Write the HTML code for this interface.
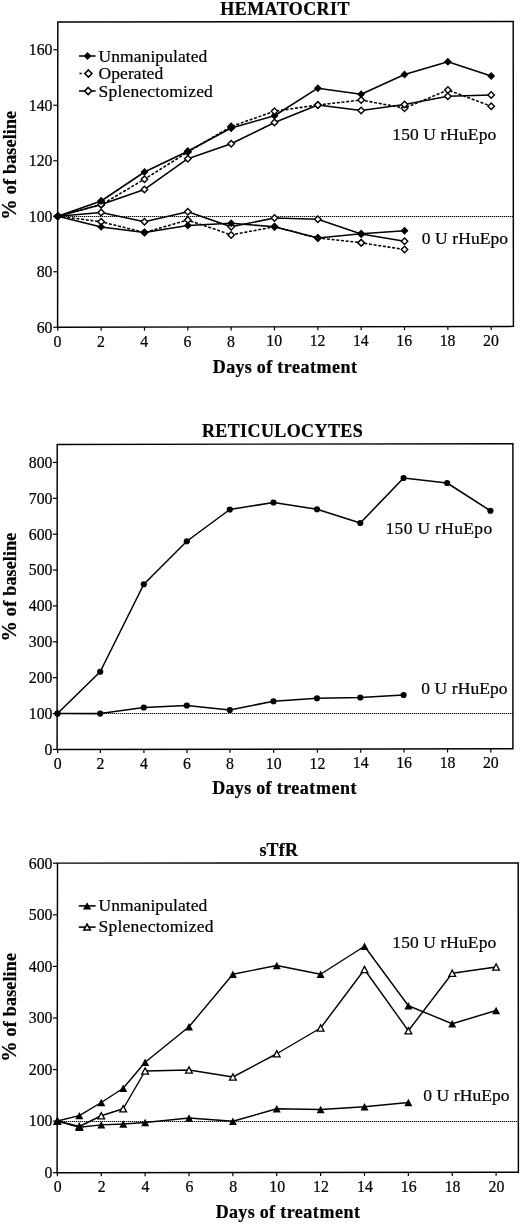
<!DOCTYPE html>
<html lang="en"><head><meta charset="utf-8"><title>Figure</title>
<style>
html,body{margin:0;padding:0;background:#fff;}
body{width:520px;height:1224px;overflow:hidden;}
svg{display:block;}
svg text{font-family:"Liberation Serif", "DejaVu Serif", serif;fill:#000;stroke:#000;stroke-width:0.22px;}
</style></head><body>
<svg width="520" height="1224" viewBox="0 0 520 1224">
<rect width="520" height="1224" fill="#fff"/>
<g id="c1">
<text x="285.1" y="14.6" text-anchor="middle" font-size="18" font-weight="bold" letter-spacing="0.43">HEMATOCRIT</text>
<line x1="58" y1="216.5" x2="513.3" y2="216.5" stroke="#000" stroke-width="1" stroke-dasharray="1.3 0.7"/>
<polyline points="57.8,216.2 101.14,221.75 144.48,232.5 187.82,220 231.16,234.9 274.5,226.75 317.84,238 361.18,242.7 404.52,249.6" fill="none" stroke="#000" stroke-width="1.55" stroke-linejoin="round" stroke-dasharray="3.0 1.7"/>
<path d="M57.8 212.95 l3.25 3.25 l-3.25 3.25 l-3.25 -3.25 z" fill="#fff" stroke="#000" stroke-width="1.4"/>
<path d="M101.14 218.5 l3.25 3.25 l-3.25 3.25 l-3.25 -3.25 z" fill="#fff" stroke="#000" stroke-width="1.4"/>
<path d="M144.48 229.25 l3.25 3.25 l-3.25 3.25 l-3.25 -3.25 z" fill="#fff" stroke="#000" stroke-width="1.4"/>
<path d="M187.82 216.75 l3.25 3.25 l-3.25 3.25 l-3.25 -3.25 z" fill="#fff" stroke="#000" stroke-width="1.4"/>
<path d="M231.16 231.65 l3.25 3.25 l-3.25 3.25 l-3.25 -3.25 z" fill="#fff" stroke="#000" stroke-width="1.4"/>
<path d="M274.5 223.5 l3.25 3.25 l-3.25 3.25 l-3.25 -3.25 z" fill="#fff" stroke="#000" stroke-width="1.4"/>
<path d="M317.84 234.75 l3.25 3.25 l-3.25 3.25 l-3.25 -3.25 z" fill="#fff" stroke="#000" stroke-width="1.4"/>
<path d="M361.18 239.45 l3.25 3.25 l-3.25 3.25 l-3.25 -3.25 z" fill="#fff" stroke="#000" stroke-width="1.4"/>
<path d="M404.52 246.35 l3.25 3.25 l-3.25 3.25 l-3.25 -3.25 z" fill="#fff" stroke="#000" stroke-width="1.4"/>
<polyline points="57.8,216.2 101.14,212.5 144.48,221.75 187.82,211.75 231.16,226.7 274.5,218 317.84,219.25 361.18,234 404.52,241.3" fill="none" stroke="#000" stroke-width="1.55" stroke-linejoin="round"/>
<path d="M57.8 212.95 l3.25 3.25 l-3.25 3.25 l-3.25 -3.25 z" fill="#fff" stroke="#000" stroke-width="1.4"/>
<path d="M101.14 209.25 l3.25 3.25 l-3.25 3.25 l-3.25 -3.25 z" fill="#fff" stroke="#000" stroke-width="1.4"/>
<path d="M144.48 218.5 l3.25 3.25 l-3.25 3.25 l-3.25 -3.25 z" fill="#fff" stroke="#000" stroke-width="1.4"/>
<path d="M187.82 208.5 l3.25 3.25 l-3.25 3.25 l-3.25 -3.25 z" fill="#fff" stroke="#000" stroke-width="1.4"/>
<path d="M231.16 223.45 l3.25 3.25 l-3.25 3.25 l-3.25 -3.25 z" fill="#fff" stroke="#000" stroke-width="1.4"/>
<path d="M274.5 214.75 l3.25 3.25 l-3.25 3.25 l-3.25 -3.25 z" fill="#fff" stroke="#000" stroke-width="1.4"/>
<path d="M317.84 216 l3.25 3.25 l-3.25 3.25 l-3.25 -3.25 z" fill="#fff" stroke="#000" stroke-width="1.4"/>
<path d="M361.18 230.75 l3.25 3.25 l-3.25 3.25 l-3.25 -3.25 z" fill="#fff" stroke="#000" stroke-width="1.4"/>
<path d="M404.52 238.05 l3.25 3.25 l-3.25 3.25 l-3.25 -3.25 z" fill="#fff" stroke="#000" stroke-width="1.4"/>
<polyline points="57.8,216.2 101.14,201 144.48,172 187.82,151.2 231.16,128 274.5,115.75 317.84,88.2 361.18,94.25 404.52,74.5 447.86,61.75 491.2,76" fill="none" stroke="#000" stroke-width="1.55" stroke-linejoin="round"/>
<path d="M57.8 212.25 l3.95 3.95 l-3.95 3.95 l-3.95 -3.95 z" fill="#000"/>
<path d="M101.14 197.05 l3.95 3.95 l-3.95 3.95 l-3.95 -3.95 z" fill="#000"/>
<path d="M144.48 168.05 l3.95 3.95 l-3.95 3.95 l-3.95 -3.95 z" fill="#000"/>
<path d="M187.82 147.25 l3.95 3.95 l-3.95 3.95 l-3.95 -3.95 z" fill="#000"/>
<path d="M231.16 124.05 l3.95 3.95 l-3.95 3.95 l-3.95 -3.95 z" fill="#000"/>
<path d="M274.5 111.8 l3.95 3.95 l-3.95 3.95 l-3.95 -3.95 z" fill="#000"/>
<path d="M317.84 84.25 l3.95 3.95 l-3.95 3.95 l-3.95 -3.95 z" fill="#000"/>
<path d="M361.18 90.3 l3.95 3.95 l-3.95 3.95 l-3.95 -3.95 z" fill="#000"/>
<path d="M404.52 70.55 l3.95 3.95 l-3.95 3.95 l-3.95 -3.95 z" fill="#000"/>
<path d="M447.86 57.8 l3.95 3.95 l-3.95 3.95 l-3.95 -3.95 z" fill="#000"/>
<path d="M491.2 72.05 l3.95 3.95 l-3.95 3.95 l-3.95 -3.95 z" fill="#000"/>
<polyline points="57.8,216.2 101.14,226.9 144.48,232.5 187.82,225.5 231.16,223.3 274.5,226.75 317.84,238 361.18,233.75 404.52,230.8" fill="none" stroke="#000" stroke-width="1.55" stroke-linejoin="round"/>
<path d="M57.8 212.25 l3.95 3.95 l-3.95 3.95 l-3.95 -3.95 z" fill="#000"/>
<path d="M101.14 222.95 l3.95 3.95 l-3.95 3.95 l-3.95 -3.95 z" fill="#000"/>
<path d="M144.48 228.55 l3.95 3.95 l-3.95 3.95 l-3.95 -3.95 z" fill="#000"/>
<path d="M187.82 221.55 l3.95 3.95 l-3.95 3.95 l-3.95 -3.95 z" fill="#000"/>
<path d="M231.16 219.35 l3.95 3.95 l-3.95 3.95 l-3.95 -3.95 z" fill="#000"/>
<path d="M274.5 222.8 l3.95 3.95 l-3.95 3.95 l-3.95 -3.95 z" fill="#000"/>
<path d="M317.84 234.05 l3.95 3.95 l-3.95 3.95 l-3.95 -3.95 z" fill="#000"/>
<path d="M361.18 229.8 l3.95 3.95 l-3.95 3.95 l-3.95 -3.95 z" fill="#000"/>
<path d="M404.52 226.85 l3.95 3.95 l-3.95 3.95 l-3.95 -3.95 z" fill="#000"/>
<polyline points="57.8,216.2 101.14,204.8 144.48,179.2 187.82,152 231.16,126.5 274.5,111.25 317.84,105 361.18,100 404.52,108.2 447.86,90 491.2,106.25" fill="none" stroke="#000" stroke-width="1.55" stroke-linejoin="round" stroke-dasharray="3.0 1.7"/>
<path d="M57.8 212.95 l3.25 3.25 l-3.25 3.25 l-3.25 -3.25 z" fill="#fff" stroke="#000" stroke-width="1.4"/>
<path d="M101.14 201.55 l3.25 3.25 l-3.25 3.25 l-3.25 -3.25 z" fill="#fff" stroke="#000" stroke-width="1.4"/>
<path d="M144.48 175.95 l3.25 3.25 l-3.25 3.25 l-3.25 -3.25 z" fill="#fff" stroke="#000" stroke-width="1.4"/>
<path d="M187.82 148.75 l3.25 3.25 l-3.25 3.25 l-3.25 -3.25 z" fill="#fff" stroke="#000" stroke-width="1.4"/>
<path d="M231.16 123.25 l3.25 3.25 l-3.25 3.25 l-3.25 -3.25 z" fill="#fff" stroke="#000" stroke-width="1.4"/>
<path d="M274.5 108 l3.25 3.25 l-3.25 3.25 l-3.25 -3.25 z" fill="#fff" stroke="#000" stroke-width="1.4"/>
<path d="M317.84 101.75 l3.25 3.25 l-3.25 3.25 l-3.25 -3.25 z" fill="#fff" stroke="#000" stroke-width="1.4"/>
<path d="M361.18 96.75 l3.25 3.25 l-3.25 3.25 l-3.25 -3.25 z" fill="#fff" stroke="#000" stroke-width="1.4"/>
<path d="M404.52 104.95 l3.25 3.25 l-3.25 3.25 l-3.25 -3.25 z" fill="#fff" stroke="#000" stroke-width="1.4"/>
<path d="M447.86 86.75 l3.25 3.25 l-3.25 3.25 l-3.25 -3.25 z" fill="#fff" stroke="#000" stroke-width="1.4"/>
<path d="M491.2 103 l3.25 3.25 l-3.25 3.25 l-3.25 -3.25 z" fill="#fff" stroke="#000" stroke-width="1.4"/>
<polyline points="57.8,216.2 101.14,204.6 144.48,189.4 187.82,158.7 231.16,143.8 274.5,122.5 317.84,105 361.18,110.5 404.52,104.4 447.86,96.25 491.2,95" fill="none" stroke="#000" stroke-width="1.55" stroke-linejoin="round"/>
<path d="M57.8 212.95 l3.25 3.25 l-3.25 3.25 l-3.25 -3.25 z" fill="#fff" stroke="#000" stroke-width="1.4"/>
<path d="M101.14 201.35 l3.25 3.25 l-3.25 3.25 l-3.25 -3.25 z" fill="#fff" stroke="#000" stroke-width="1.4"/>
<path d="M144.48 186.15 l3.25 3.25 l-3.25 3.25 l-3.25 -3.25 z" fill="#fff" stroke="#000" stroke-width="1.4"/>
<path d="M187.82 155.45 l3.25 3.25 l-3.25 3.25 l-3.25 -3.25 z" fill="#fff" stroke="#000" stroke-width="1.4"/>
<path d="M231.16 140.55 l3.25 3.25 l-3.25 3.25 l-3.25 -3.25 z" fill="#fff" stroke="#000" stroke-width="1.4"/>
<path d="M274.5 119.25 l3.25 3.25 l-3.25 3.25 l-3.25 -3.25 z" fill="#fff" stroke="#000" stroke-width="1.4"/>
<path d="M317.84 101.75 l3.25 3.25 l-3.25 3.25 l-3.25 -3.25 z" fill="#fff" stroke="#000" stroke-width="1.4"/>
<path d="M361.18 107.25 l3.25 3.25 l-3.25 3.25 l-3.25 -3.25 z" fill="#fff" stroke="#000" stroke-width="1.4"/>
<path d="M404.52 101.15 l3.25 3.25 l-3.25 3.25 l-3.25 -3.25 z" fill="#fff" stroke="#000" stroke-width="1.4"/>
<path d="M447.86 93 l3.25 3.25 l-3.25 3.25 l-3.25 -3.25 z" fill="#fff" stroke="#000" stroke-width="1.4"/>
<path d="M491.2 91.75 l3.25 3.25 l-3.25 3.25 l-3.25 -3.25 z" fill="#fff" stroke="#000" stroke-width="1.4"/>
<path d="M361.18 239.45 l3.25 3.25 l-3.25 3.25 l-3.25 -3.25 z" fill="#fff" stroke="#000" stroke-width="1.4"/>
<path d="M57.8 212.25 l3.95 3.95 l-3.95 3.95 l-3.95 -3.95 z" fill="#000"/>
<path d="M101.14 197.05 l3.95 3.95 l-3.95 3.95 l-3.95 -3.95 z" fill="#000"/>
<path d="M187.82 147.25 l3.95 3.95 l-3.95 3.95 l-3.95 -3.95 z" fill="#000"/>
<path d="M231.16 124.05 l3.95 3.95 l-3.95 3.95 l-3.95 -3.95 z" fill="#000"/>
<polygon points="57.8,21.9 513.2,21.5 513.4,326.4 57.6,327.25" fill="none" stroke="#000" stroke-width="1.45" stroke-linejoin="miter"/>
<line x1="53.3" y1="327.25" x2="57.7" y2="327.25" stroke="#000" stroke-width="1.2"/>
<text x="52.5" y="332.6" text-anchor="end" font-size="15.8">60</text>
<line x1="53.3" y1="271.75" x2="57.7" y2="271.75" stroke="#000" stroke-width="1.2"/>
<text x="52.5" y="277.1" text-anchor="end" font-size="15.8">80</text>
<line x1="53.3" y1="216.25" x2="57.7" y2="216.25" stroke="#000" stroke-width="1.2"/>
<text x="52.5" y="221.6" text-anchor="end" font-size="15.8">100</text>
<line x1="53.3" y1="160.75" x2="57.7" y2="160.75" stroke="#000" stroke-width="1.2"/>
<text x="52.5" y="166.1" text-anchor="end" font-size="15.8">120</text>
<line x1="53.3" y1="105.25" x2="57.7" y2="105.25" stroke="#000" stroke-width="1.2"/>
<text x="52.5" y="110.6" text-anchor="end" font-size="15.8">140</text>
<line x1="53.3" y1="49.75" x2="57.7" y2="49.75" stroke="#000" stroke-width="1.2"/>
<text x="52.5" y="55.1" text-anchor="end" font-size="15.8">160</text>
<line x1="57.8" y1="327.25" x2="57.8" y2="330.85" stroke="#000" stroke-width="1.2"/>
<text x="57.5" y="346.85" text-anchor="middle" font-size="15.8">0</text>
<line x1="101.14" y1="327.17" x2="101.14" y2="330.77" stroke="#000" stroke-width="1.2"/>
<text x="100.84" y="346.77" text-anchor="middle" font-size="15.8">2</text>
<line x1="144.48" y1="327.09" x2="144.48" y2="330.69" stroke="#000" stroke-width="1.2"/>
<text x="144.18" y="346.69" text-anchor="middle" font-size="15.8">4</text>
<line x1="187.82" y1="327.01" x2="187.82" y2="330.61" stroke="#000" stroke-width="1.2"/>
<text x="187.52" y="346.61" text-anchor="middle" font-size="15.8">6</text>
<line x1="231.16" y1="326.93" x2="231.16" y2="330.53" stroke="#000" stroke-width="1.2"/>
<text x="230.86" y="346.53" text-anchor="middle" font-size="15.8">8</text>
<line x1="274.5" y1="326.85" x2="274.5" y2="330.45" stroke="#000" stroke-width="1.2"/>
<text x="274.2" y="346.45" text-anchor="middle" font-size="15.8">10</text>
<line x1="317.84" y1="326.76" x2="317.84" y2="330.36" stroke="#000" stroke-width="1.2"/>
<text x="317.54" y="346.36" text-anchor="middle" font-size="15.8">12</text>
<line x1="361.18" y1="326.68" x2="361.18" y2="330.28" stroke="#000" stroke-width="1.2"/>
<text x="360.88" y="346.28" text-anchor="middle" font-size="15.8">14</text>
<line x1="404.52" y1="326.6" x2="404.52" y2="330.2" stroke="#000" stroke-width="1.2"/>
<text x="404.22" y="346.2" text-anchor="middle" font-size="15.8">16</text>
<line x1="447.86" y1="326.52" x2="447.86" y2="330.12" stroke="#000" stroke-width="1.2"/>
<text x="447.56" y="346.12" text-anchor="middle" font-size="15.8">18</text>
<line x1="491.2" y1="326.44" x2="491.2" y2="330.04" stroke="#000" stroke-width="1.2"/>
<text x="490.9" y="346.04" text-anchor="middle" font-size="15.8">20</text>
<text transform="translate(16.2 165.2) rotate(-90)" text-anchor="middle" font-size="18" font-weight="bold" letter-spacing="0.4"><tspan font-size="20.5">%</tspan><tspan dx="4.4">of</tspan><tspan dx="4.6" letter-spacing="0.15">baseline</tspan></text>
<text x="285.2" y="373" text-anchor="middle" font-size="18" font-weight="bold" letter-spacing="0.3">Days of <tspan letter-spacing="0.52">treatment</tspan></text>
<text transform="translate(392.3 140) scale(1 1)" font-size="17.5" letter-spacing="0.08">150 U rHuEpo</text>
<text transform="translate(421.8 243.75) scale(1 1)" font-size="17.5" letter-spacing="0.08">0 U rHuEpo</text>
<line x1="79" y1="56" x2="95.6" y2="56" stroke="#000" stroke-width="1.55"/>
<path d="M87.5 52.1 l3.9 3.9 l-3.9 3.9 l-3.9 -3.9 z" fill="#000"/>
<text transform="translate(98.5 61.7) scale(1 1)" font-size="17.5" letter-spacing="0.08">Unmanipulated</text>
<line x1="79.5" y1="73.5" x2="81.7" y2="73.5" stroke="#000" stroke-width="1.6500000000000001"/>
<path d="M88.4 69.95 l3.55 3.55 l-3.55 3.55 l-3.55 -3.55 z" fill="#fff" stroke="#000" stroke-width="1.55"/>
<text transform="translate(98.5 79.2) scale(1 1)" font-size="17.5" letter-spacing="0.08">Operated</text>
<line x1="79" y1="91" x2="95.6" y2="91" stroke="#000" stroke-width="1.55"/>
<path d="M88.2 87.45 l3.55 3.55 l-3.55 3.55 l-3.55 -3.55 z" fill="#fff" stroke="#000" stroke-width="1.55"/>
<text transform="translate(98.5 96.7) scale(1 1)" font-size="17.5" letter-spacing="0.2">Splenectomized</text>
</g>
<g id="c2">
<text x="282.5" y="437.4" text-anchor="middle" font-size="18" font-weight="bold" letter-spacing="0.4">RETICULOCYTES</text>
<line x1="58" y1="713.5" x2="512.9" y2="713.5" stroke="#000" stroke-width="1" stroke-dasharray="1.3 0.7"/>
<polyline points="57.5,713.5 100.2,671.75 143.8,584.25 186.8,541.25 229.8,509.5 273.5,502.5 317,509.25 360.3,523 403.6,478 447.1,483 490.4,510.75" fill="none" stroke="#000" stroke-width="1.55" stroke-linejoin="round"/>
<polyline points="57.5,713.5 100.2,713.6 143.8,707.5 186.8,705.5 229.8,710 273.5,701.25 317,698.25 360.3,697.5 403.6,695" fill="none" stroke="#000" stroke-width="1.55" stroke-linejoin="round"/>
<circle cx="57.5" cy="713.5" r="3.1" fill="#000"/>
<circle cx="100.2" cy="671.75" r="3.1" fill="#000"/>
<circle cx="143.8" cy="584.25" r="3.1" fill="#000"/>
<circle cx="186.8" cy="541.25" r="3.1" fill="#000"/>
<circle cx="229.8" cy="509.5" r="3.1" fill="#000"/>
<circle cx="273.5" cy="502.5" r="3.1" fill="#000"/>
<circle cx="317" cy="509.25" r="3.1" fill="#000"/>
<circle cx="360.3" cy="523" r="3.1" fill="#000"/>
<circle cx="403.6" cy="478" r="3.1" fill="#000"/>
<circle cx="447.1" cy="483" r="3.1" fill="#000"/>
<circle cx="490.4" cy="510.75" r="3.1" fill="#000"/>
<circle cx="57.5" cy="713.5" r="3.1" fill="#000"/>
<circle cx="100.2" cy="713.6" r="3.1" fill="#000"/>
<circle cx="143.8" cy="707.5" r="3.1" fill="#000"/>
<circle cx="186.8" cy="705.5" r="3.1" fill="#000"/>
<circle cx="229.8" cy="710" r="3.1" fill="#000"/>
<circle cx="273.5" cy="701.25" r="3.1" fill="#000"/>
<circle cx="317" cy="698.25" r="3.1" fill="#000"/>
<circle cx="360.3" cy="697.5" r="3.1" fill="#000"/>
<circle cx="403.6" cy="695" r="3.1" fill="#000"/>
<polygon points="57.2,444.4 512.9,443.8 512.9,748.8 57.1,749.5" fill="none" stroke="#000" stroke-width="1.45" stroke-linejoin="miter"/>
<line x1="52.8" y1="749.4" x2="57.2" y2="749.4" stroke="#000" stroke-width="1.2"/>
<text x="52.5" y="754.75" text-anchor="end" font-size="15.8">0</text>
<line x1="52.8" y1="713.53" x2="57.2" y2="713.53" stroke="#000" stroke-width="1.2"/>
<text x="52.5" y="718.88" text-anchor="end" font-size="15.8">100</text>
<line x1="52.8" y1="677.66" x2="57.2" y2="677.66" stroke="#000" stroke-width="1.2"/>
<text x="52.5" y="683.01" text-anchor="end" font-size="15.8">200</text>
<line x1="52.8" y1="641.79" x2="57.2" y2="641.79" stroke="#000" stroke-width="1.2"/>
<text x="52.5" y="647.14" text-anchor="end" font-size="15.8">300</text>
<line x1="52.8" y1="605.92" x2="57.2" y2="605.92" stroke="#000" stroke-width="1.2"/>
<text x="52.5" y="611.27" text-anchor="end" font-size="15.8">400</text>
<line x1="52.8" y1="570.05" x2="57.2" y2="570.05" stroke="#000" stroke-width="1.2"/>
<text x="52.5" y="575.4" text-anchor="end" font-size="15.8">500</text>
<line x1="52.8" y1="534.18" x2="57.2" y2="534.18" stroke="#000" stroke-width="1.2"/>
<text x="52.5" y="539.53" text-anchor="end" font-size="15.8">600</text>
<line x1="52.8" y1="498.31" x2="57.2" y2="498.31" stroke="#000" stroke-width="1.2"/>
<text x="52.5" y="503.66" text-anchor="end" font-size="15.8">700</text>
<line x1="52.8" y1="462.44" x2="57.2" y2="462.44" stroke="#000" stroke-width="1.2"/>
<text x="52.5" y="467.79" text-anchor="end" font-size="15.8">800</text>
<line x1="57.65" y1="749.5" x2="57.65" y2="753.1" stroke="#000" stroke-width="1.2"/>
<text x="57.65" y="768.9" text-anchor="middle" font-size="15.8">0</text>
<line x1="100.35" y1="749.43" x2="100.35" y2="753.03" stroke="#000" stroke-width="1.2"/>
<text x="100.35" y="768.83" text-anchor="middle" font-size="15.8">2</text>
<line x1="143.95" y1="749.37" x2="143.95" y2="752.97" stroke="#000" stroke-width="1.2"/>
<text x="143.95" y="768.77" text-anchor="middle" font-size="15.8">4</text>
<line x1="186.95" y1="749.3" x2="186.95" y2="752.9" stroke="#000" stroke-width="1.2"/>
<text x="186.95" y="768.7" text-anchor="middle" font-size="15.8">6</text>
<line x1="229.95" y1="749.23" x2="229.95" y2="752.83" stroke="#000" stroke-width="1.2"/>
<text x="229.95" y="768.63" text-anchor="middle" font-size="15.8">8</text>
<line x1="273.65" y1="749.17" x2="273.65" y2="752.77" stroke="#000" stroke-width="1.2"/>
<text x="273.65" y="768.57" text-anchor="middle" font-size="15.8">10</text>
<line x1="317.45" y1="749.1" x2="317.45" y2="752.7" stroke="#000" stroke-width="1.2"/>
<text x="317.45" y="768.5" text-anchor="middle" font-size="15.8">12</text>
<line x1="360.75" y1="749.03" x2="360.75" y2="752.63" stroke="#000" stroke-width="1.2"/>
<text x="360.75" y="768.43" text-anchor="middle" font-size="15.8">14</text>
<line x1="404.05" y1="748.97" x2="404.05" y2="752.57" stroke="#000" stroke-width="1.2"/>
<text x="404.05" y="768.37" text-anchor="middle" font-size="15.8">16</text>
<line x1="447.55" y1="748.9" x2="447.55" y2="752.5" stroke="#000" stroke-width="1.2"/>
<text x="447.55" y="768.3" text-anchor="middle" font-size="15.8">18</text>
<line x1="490.85" y1="748.83" x2="490.85" y2="752.43" stroke="#000" stroke-width="1.2"/>
<text x="490.85" y="768.23" text-anchor="middle" font-size="15.8">20</text>
<text transform="translate(15.8 587) rotate(-90)" text-anchor="middle" font-size="18" font-weight="bold" letter-spacing="0.4"><tspan font-size="20.5">%</tspan><tspan dx="4.4">of</tspan><tspan dx="4.6" letter-spacing="0.15">baseline</tspan></text>
<text x="284.6" y="793.9" text-anchor="middle" font-size="18" font-weight="bold" letter-spacing="0.3">Days of <tspan letter-spacing="0.52">treatment</tspan></text>
<text transform="translate(385.5 533.75) scale(1 1)" font-size="17.5" letter-spacing="0.33">150 U rHuEpo</text>
<text transform="translate(421.3 693.75) scale(1 1)" font-size="17.5" letter-spacing="0.08">0 U rHuEpo</text>
</g>
<g id="c3">
<text x="278.8" y="855.5" text-anchor="middle" font-size="18" font-weight="bold" letter-spacing="0.2">sTfR</text>
<line x1="58" y1="1121.5" x2="518.3" y2="1121.5" stroke="#000" stroke-width="1" stroke-dasharray="1.3 0.7"/>
<polyline points="57.4,1121 79.33,1126.5 101.27,1115.75 123.2,1108.75 145.14,1071 189.01,1070 232.88,1077 276.75,1053.75 320.62,1028 364.49,969.5 408.36,1030.75 452.23,973.25 496.1,967" fill="none" stroke="#000" stroke-width="1.42" stroke-linejoin="round"/>
<polyline points="57.4,1121 79.33,1115.6 101.27,1102.5 123.2,1088.25 145.14,1062.3 189.01,1026.75 232.88,974.25 276.75,965.5 320.62,974.25 364.49,946.25 408.36,1005.75 452.23,1023.75 496.1,1010.5" fill="none" stroke="#000" stroke-width="1.42" stroke-linejoin="round"/>
<polyline points="57.4,1121 79.33,1127.3 101.27,1124.9 123.2,1124 145.14,1122.5 189.01,1118 232.88,1121.25 276.75,1108.75 320.62,1109.5 364.49,1106.75 408.36,1102.5" fill="none" stroke="#000" stroke-width="1.42" stroke-linejoin="round"/>
<path d="M57.4 1117.9 L60.75 1124.1 L54.05 1124.1 z" fill="#fff" stroke="#000" stroke-width="1.3"/>
<path d="M79.33 1123.4 L82.68 1129.6 L75.98 1129.6 z" fill="#fff" stroke="#000" stroke-width="1.3"/>
<path d="M101.27 1112.65 L104.62 1118.85 L97.92 1118.85 z" fill="#fff" stroke="#000" stroke-width="1.3"/>
<path d="M123.2 1105.65 L126.55 1111.85 L119.85 1111.85 z" fill="#fff" stroke="#000" stroke-width="1.3"/>
<path d="M145.14 1067.9 L148.49 1074.1 L141.79 1074.1 z" fill="#fff" stroke="#000" stroke-width="1.3"/>
<path d="M189.01 1066.9 L192.36 1073.1 L185.66 1073.1 z" fill="#fff" stroke="#000" stroke-width="1.3"/>
<path d="M232.88 1073.9 L236.23 1080.1 L229.53 1080.1 z" fill="#fff" stroke="#000" stroke-width="1.3"/>
<path d="M276.75 1050.65 L280.1 1056.85 L273.4 1056.85 z" fill="#fff" stroke="#000" stroke-width="1.3"/>
<path d="M320.62 1024.9 L323.97 1031.1 L317.27 1031.1 z" fill="#fff" stroke="#000" stroke-width="1.3"/>
<path d="M364.49 966.4 L367.84 972.6 L361.14 972.6 z" fill="#fff" stroke="#000" stroke-width="1.3"/>
<path d="M408.36 1027.65 L411.71 1033.85 L405.01 1033.85 z" fill="#fff" stroke="#000" stroke-width="1.3"/>
<path d="M452.23 970.15 L455.58 976.35 L448.88 976.35 z" fill="#fff" stroke="#000" stroke-width="1.3"/>
<path d="M496.1 963.9 L499.45 970.1 L492.75 970.1 z" fill="#fff" stroke="#000" stroke-width="1.3"/>
<path d="M57.4 1117.3 L61.4 1124.7 L53.4 1124.7 z" fill="#000"/>
<path d="M79.33 1111.9 L83.33 1119.3 L75.33 1119.3 z" fill="#000"/>
<path d="M101.27 1098.8 L105.27 1106.2 L97.27 1106.2 z" fill="#000"/>
<path d="M123.2 1084.55 L127.2 1091.95 L119.2 1091.95 z" fill="#000"/>
<path d="M145.14 1058.6 L149.14 1066 L141.14 1066 z" fill="#000"/>
<path d="M189.01 1023.05 L193.01 1030.45 L185.01 1030.45 z" fill="#000"/>
<path d="M232.88 970.55 L236.88 977.95 L228.88 977.95 z" fill="#000"/>
<path d="M276.75 961.8 L280.75 969.2 L272.75 969.2 z" fill="#000"/>
<path d="M320.62 970.55 L324.62 977.95 L316.62 977.95 z" fill="#000"/>
<path d="M364.49 942.55 L368.49 949.95 L360.49 949.95 z" fill="#000"/>
<path d="M408.36 1002.05 L412.36 1009.45 L404.36 1009.45 z" fill="#000"/>
<path d="M452.23 1020.05 L456.23 1027.45 L448.23 1027.45 z" fill="#000"/>
<path d="M496.1 1006.8 L500.1 1014.2 L492.1 1014.2 z" fill="#000"/>
<path d="M57.4 1117.3 L61.4 1124.7 L53.4 1124.7 z" fill="#000"/>
<path d="M79.33 1123.6 L83.33 1131 L75.33 1131 z" fill="#000"/>
<path d="M101.27 1121.2 L105.27 1128.6 L97.27 1128.6 z" fill="#000"/>
<path d="M123.2 1120.3 L127.2 1127.7 L119.2 1127.7 z" fill="#000"/>
<path d="M145.14 1118.8 L149.14 1126.2 L141.14 1126.2 z" fill="#000"/>
<path d="M189.01 1114.3 L193.01 1121.7 L185.01 1121.7 z" fill="#000"/>
<path d="M232.88 1117.55 L236.88 1124.95 L228.88 1124.95 z" fill="#000"/>
<path d="M276.75 1105.05 L280.75 1112.45 L272.75 1112.45 z" fill="#000"/>
<path d="M320.62 1105.8 L324.62 1113.2 L316.62 1113.2 z" fill="#000"/>
<path d="M364.49 1103.05 L368.49 1110.45 L360.49 1110.45 z" fill="#000"/>
<path d="M408.36 1098.8 L412.36 1106.2 L404.36 1106.2 z" fill="#000"/>
<polygon points="57.5,863.1 518.2,862.9 518.4,1172.2 57.1,1172.75" fill="none" stroke="#000" stroke-width="1.45" stroke-linejoin="miter"/>
<line x1="52.9" y1="1172.7" x2="57.3" y2="1172.7" stroke="#000" stroke-width="1.2"/>
<text x="52.5" y="1178.05" text-anchor="end" font-size="15.8">0</text>
<line x1="52.9" y1="1121.12" x2="57.3" y2="1121.12" stroke="#000" stroke-width="1.2"/>
<text x="52.5" y="1126.47" text-anchor="end" font-size="15.8">100</text>
<line x1="52.9" y1="1069.54" x2="57.3" y2="1069.54" stroke="#000" stroke-width="1.2"/>
<text x="52.5" y="1074.89" text-anchor="end" font-size="15.8">200</text>
<line x1="52.9" y1="1017.96" x2="57.3" y2="1017.96" stroke="#000" stroke-width="1.2"/>
<text x="52.5" y="1023.31" text-anchor="end" font-size="15.8">300</text>
<line x1="52.9" y1="966.38" x2="57.3" y2="966.38" stroke="#000" stroke-width="1.2"/>
<text x="52.5" y="971.73" text-anchor="end" font-size="15.8">400</text>
<line x1="52.9" y1="914.8" x2="57.3" y2="914.8" stroke="#000" stroke-width="1.2"/>
<text x="52.5" y="920.15" text-anchor="end" font-size="15.8">500</text>
<line x1="52.9" y1="863.22" x2="57.3" y2="863.22" stroke="#000" stroke-width="1.2"/>
<text x="52.5" y="868.57" text-anchor="end" font-size="15.8">600</text>
<line x1="57.4" y1="1172.75" x2="57.4" y2="1176.35" stroke="#000" stroke-width="1.2"/>
<text x="57.8" y="1192.45" text-anchor="middle" font-size="15.8">0</text>
<line x1="101.27" y1="1172.7" x2="101.27" y2="1176.3" stroke="#000" stroke-width="1.2"/>
<text x="101.67" y="1192.4" text-anchor="middle" font-size="15.8">2</text>
<line x1="145.14" y1="1172.65" x2="145.14" y2="1176.25" stroke="#000" stroke-width="1.2"/>
<text x="145.54" y="1192.35" text-anchor="middle" font-size="15.8">4</text>
<line x1="189.01" y1="1172.59" x2="189.01" y2="1176.19" stroke="#000" stroke-width="1.2"/>
<text x="189.41" y="1192.29" text-anchor="middle" font-size="15.8">6</text>
<line x1="232.88" y1="1172.54" x2="232.88" y2="1176.14" stroke="#000" stroke-width="1.2"/>
<text x="233.28" y="1192.24" text-anchor="middle" font-size="15.8">8</text>
<line x1="276.75" y1="1172.49" x2="276.75" y2="1176.09" stroke="#000" stroke-width="1.2"/>
<text x="277.15" y="1192.19" text-anchor="middle" font-size="15.8">10</text>
<line x1="320.62" y1="1172.44" x2="320.62" y2="1176.04" stroke="#000" stroke-width="1.2"/>
<text x="321.02" y="1192.14" text-anchor="middle" font-size="15.8">12</text>
<line x1="364.49" y1="1172.38" x2="364.49" y2="1175.98" stroke="#000" stroke-width="1.2"/>
<text x="364.89" y="1192.08" text-anchor="middle" font-size="15.8">14</text>
<line x1="408.36" y1="1172.33" x2="408.36" y2="1175.93" stroke="#000" stroke-width="1.2"/>
<text x="408.76" y="1192.03" text-anchor="middle" font-size="15.8">16</text>
<line x1="452.23" y1="1172.28" x2="452.23" y2="1175.88" stroke="#000" stroke-width="1.2"/>
<text x="452.63" y="1191.98" text-anchor="middle" font-size="15.8">18</text>
<line x1="496.1" y1="1172.23" x2="496.1" y2="1175.83" stroke="#000" stroke-width="1.2"/>
<text x="496.5" y="1191.93" text-anchor="middle" font-size="15.8">20</text>
<text transform="translate(16 1007.4) rotate(-90)" text-anchor="middle" font-size="18" font-weight="bold" letter-spacing="0.4"><tspan font-size="20.5">%</tspan><tspan dx="4.4">of</tspan><tspan dx="4.6" letter-spacing="0.15">baseline</tspan></text>
<text x="288.1" y="1218" text-anchor="middle" font-size="18" font-weight="bold" letter-spacing="0.3">Days of <tspan letter-spacing="0.52">treatment</tspan></text>
<text transform="translate(392.3 948) scale(1 1)" font-size="17.5" letter-spacing="0.08">150 U rHuEpo</text>
<text transform="translate(423.3 1100.75) scale(1 1)" font-size="17.5" letter-spacing="0.08">0 U rHuEpo</text>
<line x1="78.8" y1="905.9" x2="95.6" y2="905.9" stroke="#000" stroke-width="1.55"/>
<path d="M87.1 902.2 L91.2 909.6 L83 909.6 z" fill="#000"/>
<text transform="translate(98.5 911.2) scale(1 1)" font-size="17.5" letter-spacing="0.08">Unmanipulated</text>
<line x1="78.8" y1="927.1" x2="95.6" y2="927.1" stroke="#000" stroke-width="1.55"/>
<path d="M87.1 924.15 L90.4 930.05 L83.8 930.05 z" fill="#fff" stroke="#000" stroke-width="1.5"/>
<text transform="translate(98.5 932.4) scale(1 1)" font-size="17.5" letter-spacing="0.25">Splenectomized</text>
</g>
</svg>
</body></html>
